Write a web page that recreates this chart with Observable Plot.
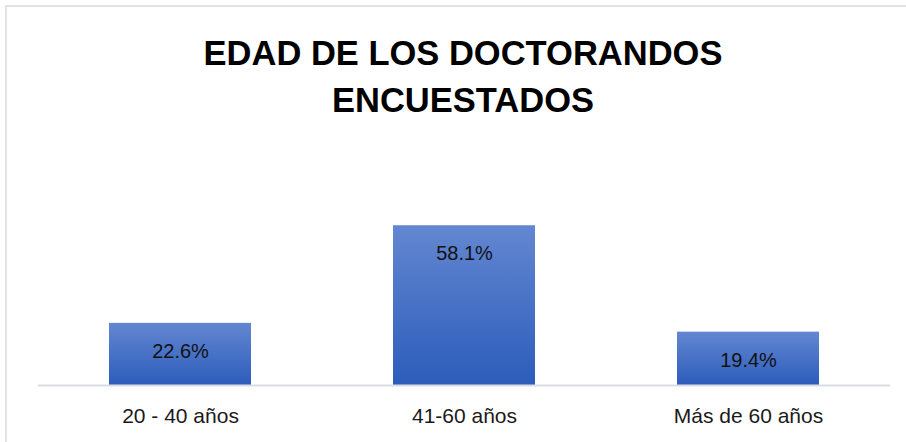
<!DOCTYPE html>
<html>
<head>
<meta charset="utf-8">
<script src="https://cdn.jsdelivr.net/npm/d3@7"></script>
<script src="https://cdn.jsdelivr.net/npm/@observablehq/plot@0.6"></script>
<style>
  html, body { margin: 0; padding: 0; background: #fff; overflow: hidden; }
  #wrap { position: relative; width: 906px; height: 442px; }
  #frame { position: absolute; left: 5px; top: 5px; width: 1200px; height: 1200px;
           border-left: 2px solid #dfe3e8; border-top: 2px solid #dfe3e8; box-sizing: border-box; }
  #title { position: absolute; left: 0; top: 30px; width: 926px; text-align: center;
           font-family: "Liberation Sans", Arial, sans-serif; font-weight: bold; font-size: 34.5px;
           line-height: 47px; color: #000; }
  #chart { position: absolute; left: 0; top: 130px; }
</style>
</head>
<body>
<div id="wrap">
  <div id="frame"></div>
  <div id="title">EDAD DE LOS DOCTORANDOS<br>ENCUESTADOS</div>
  <div id="chart"></div>
</div>
<script>
const categories = ["20 - 40 años", "41-60 años", "Más de 60 años"];
const values = [22.6, 58.1, 19.4];
const data = categories.map((c, i) => ({category: c, value: values[i]}));

const plot = Plot.plot({
  width: 906,
  height: 312,
  marginTop: 90,
  marginBottom: 57,
  marginLeft: 38,
  marginRight: 16,
  style: {fontFamily: "'Liberation Sans', Arial, sans-serif", background: "transparent", overflow: "visible"},
  x: {domain: categories, paddingInner: 0.5, paddingOuter: 0.25, label: null},
  y: {domain: [0, 60], axis: null},
  marks: [
    Plot.barY(data, {x: "category", y: "value", fill: "url(#barGrad)"}),
    Plot.ruleY([0], {stroke: "#d9dde3", strokeWidth: 2}),
    Plot.text(data, {x: "category", y: "value", text: d => d.value.toFixed(1) + "%",
      dy: 28, fontSize: 20, fill: "#111"}),
    Plot.axisX({tickSize: 0, tickPadding: 23, fontSize: 21, color: "#1a1a1a", label: null})
  ]
});

const ns = "http://www.w3.org/2000/svg";
const defs = document.createElementNS(ns, "defs");
defs.innerHTML = `<linearGradient id="barGrad" x1="0" y1="0" x2="0" y2="1">
  <stop offset="0" stop-color="#6387d1"/>
  <stop offset="1" stop-color="#2c5cbb"/>
</linearGradient>`;
plot.insertBefore(defs, plot.firstChild);
document.getElementById("chart").appendChild(plot);
</script>
</body>
</html>
